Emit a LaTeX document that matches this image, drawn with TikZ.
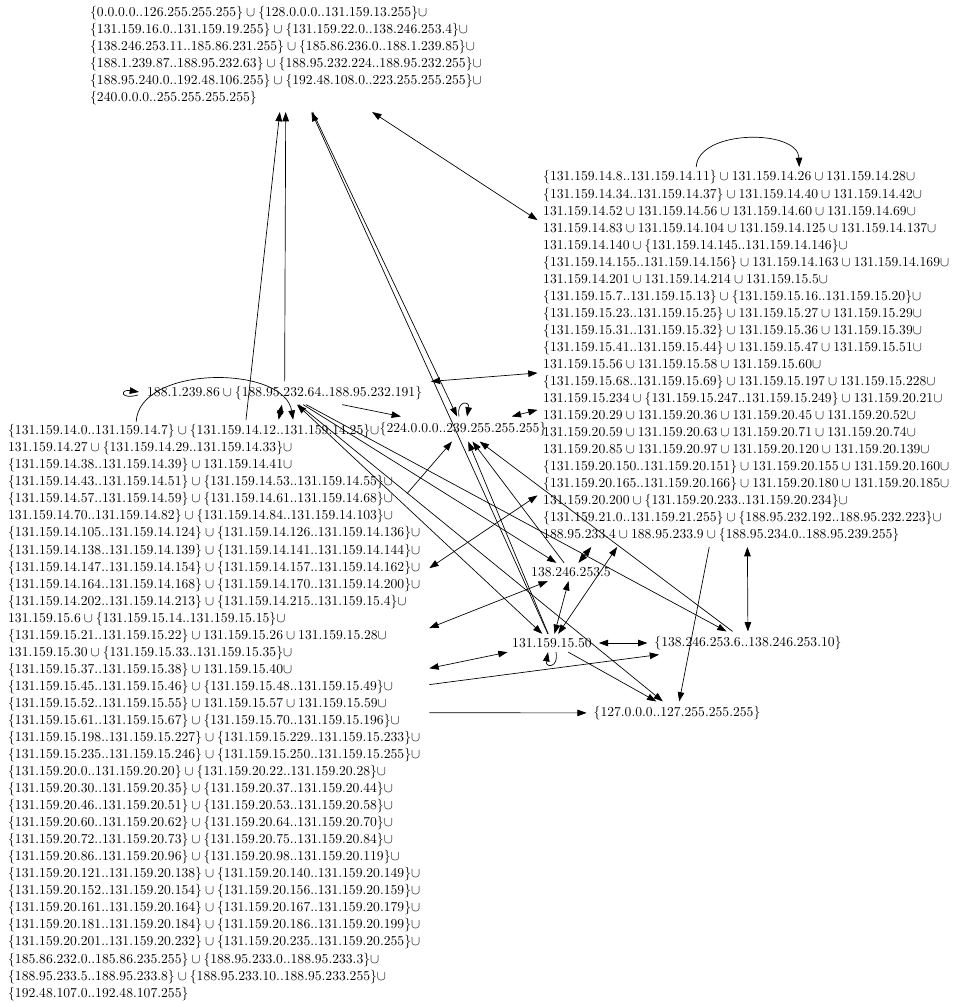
\documentclass[tikz,border=0pt]{standalone}
\usetikzlibrary{arrows.meta,calc}
\begin{document}
\begin{tikzpicture}[
  x=0.7335pt, y=-0.7335pt,
  every node/.style = {font=\fontsize{10}{12.5}\selectfont, inner xsep=5pt, inner ysep=3.3pt},
  ipset/.style = {align=left, anchor=west},
  tip/.style = {line width=0.5pt, -{Triangle[length=6.8pt, width=4.8pt]}},
  tips/.style = {line width=0.5pt, {Triangle[length=6.8pt, width=4.8pt]}-{Triangle[length=6.8pt, width=4.8pt]}},
]
\useasboundingbox (0,0) rectangle (955,1003);

% ── Address sets ──────────────────────────────────────────────────────────
\node[ipset, inner xsep=6.5pt, inner ysep=5pt] (T) at (81, 55.5)
  {$\{0.0.0.0..126.255.255.255\} \cup \{128.0.0.0..131.159.13.255\}\cup$\\
   $\{131.159.16.0..131.159.19.255\} \cup \{131.159.22.0..138.246.253.4\}\cup$\\
   $\{138.246.253.11..185.86.231.255\} \cup \{185.86.236.0..188.1.239.85\}\cup$\\
   $\{188.1.239.87..188.95.232.63\} \cup \{188.95.232.224..188.95.232.255\}\cup$\\
   $\{188.95.240.0..192.48.106.255\} \cup \{192.48.108.0..223.255.255.255\}\cup$\\
   $\{240.0.0.0..255.255.255.255\}$};

\node[ipset, inner xsep=4pt] (R) at (537.5, 356.5)
  {$\{131.159.14.8..131.159.14.11\} \cup 131.159.14.26 \cup 131.159.14.28\cup$\\
   $\{131.159.14.34..131.159.14.37\} \cup 131.159.14.40 \cup 131.159.14.42\cup$\\
   $131.159.14.52 \cup 131.159.14.56 \cup 131.159.14.60 \cup 131.159.14.69\cup$\\
   $131.159.14.83 \cup 131.159.14.104 \cup 131.159.14.125 \cup 131.159.14.137\cup$\\
   $131.159.14.140 \cup \{131.159.14.145..131.159.14.146\}\cup$\\
   $\{131.159.14.155..131.159.14.156\} \cup 131.159.14.163 \cup 131.159.14.169\cup$\\
   $131.159.14.201 \cup 131.159.14.214 \cup 131.159.15.5\cup$\\
   $\{131.159.15.7..131.159.15.13\} \cup \{131.159.15.16..131.159.15.20\}\cup$\\
   $\{131.159.15.23..131.159.15.25\} \cup 131.159.15.27 \cup 131.159.15.29\cup$\\
   $\{131.159.15.31..131.159.15.32\} \cup 131.159.15.36 \cup 131.159.15.39\cup$\\
   $\{131.159.15.41..131.159.15.44\} \cup 131.159.15.47 \cup 131.159.15.51\cup$\\
   $131.159.15.56 \cup 131.159.15.58 \cup 131.159.15.60\cup$\\
   $\{131.159.15.68..131.159.15.69\} \cup 131.159.15.197 \cup 131.159.15.228\cup$\\
   $131.159.15.234 \cup \{131.159.15.247..131.159.15.249\} \cup 131.159.20.21\cup$\\
   $131.159.20.29 \cup 131.159.20.36 \cup 131.159.20.45 \cup 131.159.20.52\cup$\\
   $131.159.20.59 \cup 131.159.20.63 \cup 131.159.20.71 \cup 131.159.20.74\cup$\\
   $131.159.20.85 \cup 131.159.20.97 \cup 131.159.20.120 \cup 131.159.20.139\cup$\\
   $\{131.159.20.150..131.159.20.151\} \cup 131.159.20.155 \cup 131.159.20.160\cup$\\
   $\{131.159.20.165..131.159.20.166\} \cup 131.159.20.180 \cup 131.159.20.185\cup$\\
   $131.159.20.200 \cup \{131.159.20.233..131.159.20.234\}\cup$\\
   $\{131.159.21.0..131.159.21.255\} \cup \{188.95.232.192..188.95.232.223\}\cup$\\
   $188.95.233.4 \cup 188.95.233.9 \cup \{188.95.234.0..188.95.239.255\}$};

\node[ipset, inner xsep=6.5pt] (A) at (138, 393)
  {$188.1.239.86 \cup \{188.95.232.64..188.95.232.191\}$};

\node[ipset, inner xsep=6.5pt] (L) at (-1, 712.5)
  {$\{131.159.14.0..131.159.14.7\} \cup \{131.159.14.12..131.159.14.25\}\cup$\\
   $131.159.14.27 \cup \{131.159.14.29..131.159.14.33\}\cup$\\
   $\{131.159.14.38..131.159.14.39\} \cup 131.159.14.41\cup$\\
   $\{131.159.14.43..131.159.14.51\} \cup \{131.159.14.53..131.159.14.55\}\cup$\\
   $\{131.159.14.57..131.159.14.59\} \cup \{131.159.14.61..131.159.14.68\}\cup$\\
   $131.159.14.70..131.159.14.82\} \cup \{131.159.14.84..131.159.14.103\}\cup$\\
   $\{131.159.14.105..131.159.14.124\} \cup \{131.159.14.126..131.159.14.136\}\cup$\\
   $\{131.159.14.138..131.159.14.139\} \cup \{131.159.14.141..131.159.14.144\}\cup$\\
   $\{131.159.14.147..131.159.14.154\} \cup \{131.159.14.157..131.159.14.162\}\cup$\\
   $\{131.159.14.164..131.159.14.168\} \cup \{131.159.14.170..131.159.14.200\}\cup$\\
   $\{131.159.14.202..131.159.14.213\} \cup \{131.159.14.215..131.159.15.4\}\cup$\\
   $131.159.15.6 \cup \{131.159.15.14..131.159.15.15\}\cup$\\
   $\{131.159.15.21..131.159.15.22\} \cup 131.159.15.26 \cup 131.159.15.28\cup$\\
   $131.159.15.30 \cup \{131.159.15.33..131.159.15.35\}\cup$\\
   $\{131.159.15.37..131.159.15.38\} \cup 131.159.15.40\cup$\\
   $\{131.159.15.45..131.159.15.46\} \cup \{131.159.15.48..131.159.15.49\}\cup$\\
   $\{131.159.15.52..131.159.15.55\} \cup 131.159.15.57 \cup 131.159.15.59\cup$\\
   $\{131.159.15.61..131.159.15.67\} \cup \{131.159.15.70..131.159.15.196\}\cup$\\
   $\{131.159.15.198..131.159.15.227\} \cup \{131.159.15.229..131.159.15.233\}\cup$\\
   $\{131.159.15.235..131.159.15.246\} \cup \{131.159.15.250..131.159.15.255\}\cup$\\
   $\{131.159.20.0..131.159.20.20\} \cup \{131.159.20.22..131.159.20.28\}\cup$\\
   $\{131.159.20.30..131.159.20.35\} \cup \{131.159.20.37..131.159.20.44\}\cup$\\
   $\{131.159.20.46..131.159.20.51\} \cup \{131.159.20.53..131.159.20.58\}\cup$\\
   $\{131.159.20.60..131.159.20.62\} \cup \{131.159.20.64..131.159.20.70\}\cup$\\
   $\{131.159.20.72..131.159.20.73\} \cup \{131.159.20.75..131.159.20.84\}\cup$\\
   $\{131.159.20.86..131.159.20.96\} \cup \{131.159.20.98..131.159.20.119\}\cup$\\
   $\{131.159.20.121..131.159.20.138\} \cup \{131.159.20.140..131.159.20.149\}\cup$\\
   $\{131.159.20.152..131.159.20.154\} \cup \{131.159.20.156..131.159.20.159\}\cup$\\
   $\{131.159.20.161..131.159.20.164\} \cup \{131.159.20.167..131.159.20.179\}\cup$\\
   $\{131.159.20.181..131.159.20.184\} \cup \{131.159.20.186..131.159.20.199\}\cup$\\
   $\{131.159.20.201..131.159.20.232\} \cup \{131.159.20.235..131.159.20.255\}\cup$\\
   $\{185.86.232.0..185.86.235.255\} \cup \{188.95.233.0..188.95.233.3\}\cup$\\
   $\{188.95.233.5..188.95.233.8\} \cup \{188.95.233.10..188.95.233.255\}\cup$\\
   $\{192.48.107.0..192.48.107.255\}$};

\node[inner ysep=4pt] (M) at (463, 429) {$\{224.0.0.0..239.255.255.255\}$};
\node (B) at (571, 572) {$138.246.253.5$};
\node (C) at (552, 643) {$131.159.15.50$};
\node (D) at (748, 643) {$\{138.246.253.6..138.246.253.10\}$};
\node (E) at (677, 713) {$\{127.0.0.0..127.255.255.255\}$};

% ── One-way flows ─────────────────────────────────────────────────────────
\draw[tip] (L) -- (T);
\draw[tip] (A) -- (T);
\draw[tip] (T) -- (M);
\draw[tip] (C) -- (T);
\draw[tip] (A) -- (M);
\draw[tip, shorten <=-25pt] (L) -- (M);
\draw[tip] (C) -- (M);
\draw[tip] (B) -- (M);
\draw[tip] (D) -- (M);
\draw[tip] (A) -- (B);
\draw[tip] (A) -- (D);
\draw[tip] (A) -- (E);
\draw[tip] (L) -- (D);
\draw[tip] (L) -- (E);
\draw[tip] (R) -- (E);
\draw[tip] (C) -- (E);

% ── Two-way flows ─────────────────────────────────────────────────────────
\draw[tips] (T) -- (R);
\draw[tips] (A) -- (R);
\draw[tips] (M) -- (R);
\draw[tips] (A) -- (L);
\draw[tips] (A) -- (C);
\draw[tips] (L) -- (R);
\draw[tips] (L) -- (B);
\draw[tips] (L) -- (C);
\draw[tips] (R) -- (D);
\draw[tips] (R) -- (C);
\draw[tips] (R) -- (B);
\draw[tips] (B) -- (C);
\draw[tips] (C) -- (D);

% ── Self loops ────────────────────────────────────────────────────────────
\draw[tip] ($(R.north)+(-50,1)$) .. controls ($(R.north)+(-48,-37)$)
  and ($(R.north)+(52,-37)$) .. ($(R.north)+(53,1)$);
\draw[tip] ($(L.north)+(-78,2)$) .. controls ($(L.north)+(-75,-55)$)
  and ($(L.north)+(70,-55)$) .. ($(L.north)+(79,0)$);
\draw[tip] ($(M.north)+(-4,0)$) .. controls ($(M.north)+(-7,-16)$)
  and ($(M.north)+(7,-16)$) .. ($(M.north)+(4,0)$);
\draw[tip] ($(C.south)+(4,0)$) .. controls ($(C.south)+(7,16)$)
  and ($(C.south)+(-7,16)$) .. ($(C.south)+(-4,0)$);
\draw[tip] ($(A.west)+(0,2)$) .. controls ($(A.west)+(-18,7)$)
  and ($(A.west)+(-18,-4)$) .. ($(A.west)+(1,-1)$);

\end{tikzpicture}
\end{document}
